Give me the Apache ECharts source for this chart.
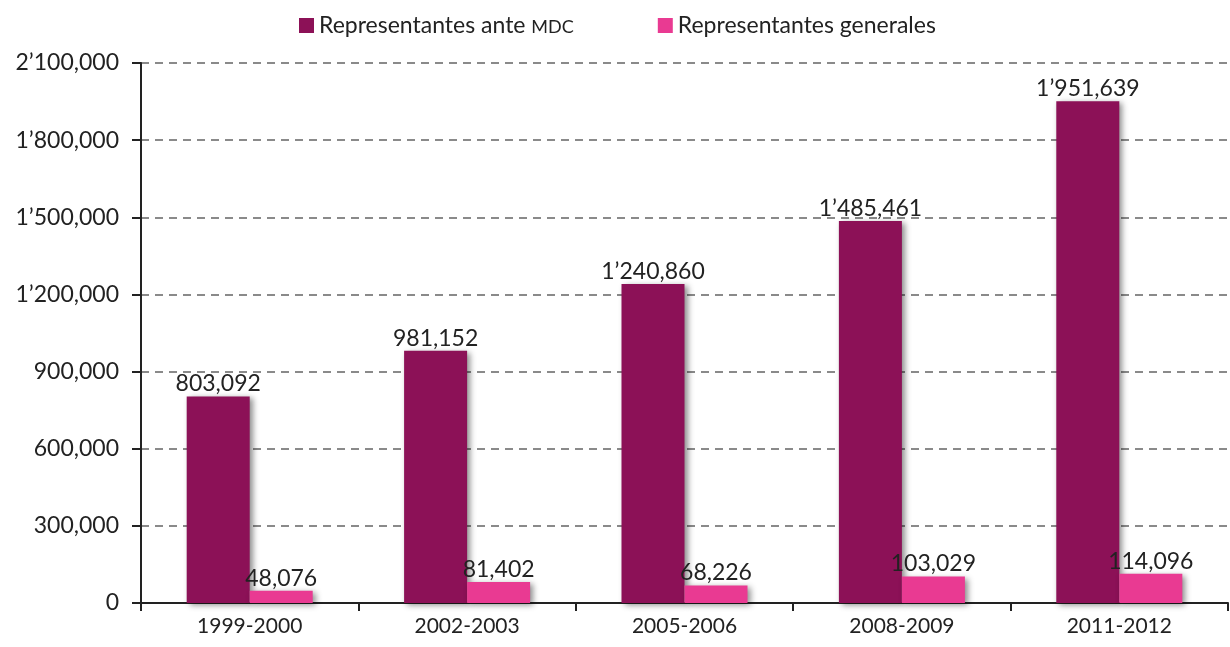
<!DOCTYPE html>
<html>
<head>
<meta charset="utf-8">
<script src="https://cdn.jsdelivr.net/npm/echarts@6/dist/echarts.min.js"></script>
<style>
  html, body { margin: 0; padding: 0; background: #fff; }
  #chart { width: 1230px; height: 647px; }
</style>
</head>
<body>
<div id="chart"></div>
<script>
const periods = ['1999-2000', '2002-2003', '2005-2006', '2008-2009', '2011-2012']
const anteMdc = [803092, 981152, 1240860, 1485461, 1951639]
const generales = [48076, 81402, 68226, 103029, 114096]
const seriesNames = ['Representantes ante MDC', 'Representantes generales']

// 1’951,639 style: apostrophe for millions, comma for thousands
function fmt(v) {
  let s = String(Math.round(v))
  let out = ''
  let n = 0
  for (let i = s.length - 1; i >= 0; i--) {
    out = s[i] + out
    n++
    if (i > 0 && n === 3) out = ',' + out
    if (i > 0 && n === 6) out = '’' + out
  }
  return out
}

const font = 'Lato, "Open Sans", sans-serif'
const chart = echarts.init(document.getElementById('chart'))

const shadow = {
  shadowColor: 'rgba(0,0,0,0.45)',
  shadowBlur: 6,
  shadowOffsetX: 3,
  shadowOffsetY: 2
}

const barLabel = {
  show: true,
  position: 'top',
  distance: 1,
  fontSize: 23,
  color: '#222',
  fontFamily: font,
  formatter: p => fmt(p.value)
}

chart.setOption({
  backgroundColor: '#fff',
  animation: false,
  textStyle: { fontFamily: font },
  legend: {
    top: 9,
    left: 294,
    itemGap: 84,
    itemWidth: 15,
    itemHeight: 15,
    icon: 'rect',
    data: seriesNames,
    formatter: function (name) {
      if (name === seriesNames[0]) return 'Representantes ante {sc|MDC}'
      return name
    },
    textStyle: {
      fontSize: 23,
      color: '#222',
      fontFamily: font,
      rich: {
        sc: { fontSize: 18, color: '#222', fontFamily: font, padding: [3, 0, 0, 0] }
      }
    }
  },
  grid: {
    left: 141,
    right: 2,
    top: 63,
    bottom: 44,
    containLabel: false
  },
  xAxis: {
    type: 'category',
    data: periods,
    axisLine: { lineStyle: { color: '#222', width: 2 } },
    axisTick: { show: true, length: 8, lineStyle: { color: '#222', width: 2 } },
    axisLabel: { fontSize: 21, color: '#222', margin: 13, fontFamily: font }
  },
  yAxis: {
    type: 'value',
    min: 0,
    max: 2100000,
    interval: 300000,
    axisLine: { show: true, lineStyle: { color: '#222', width: 2 } },
    axisTick: { show: true, length: 9, lineStyle: { color: '#222', width: 2 } },
    axisLabel: {
      fontSize: 23,
      color: '#222',
      margin: 22,
      fontFamily: font,
      formatter: fmt
    },
    splitLine: {
      lineStyle: { type: [8, 6], color: '#8a8a8a', width: 2 }
    }
  },
  series: [
    {
      name: seriesNames[0],
      type: 'bar',
      data: anteMdc,
      barWidth: 63,
      barGap: '0%',
      itemStyle: Object.assign({ color: '#8c1157' }, shadow),
      label: barLabel
    },
    {
      name: seriesNames[1],
      type: 'bar',
      data: generales,
      barWidth: 63,
      barGap: '0%',
      itemStyle: Object.assign({ color: '#e93a92' }, shadow),
      label: barLabel
    }
  ]
})
</script>
</body>
</html>
